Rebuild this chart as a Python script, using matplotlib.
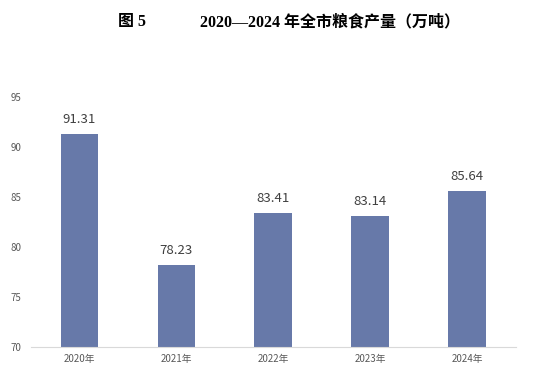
import matplotlib
matplotlib.use("Agg")
import matplotlib.pyplot as plt

plt.rcParams['font.family'] = ['Noto Sans CJK SC', 'DejaVu Sans']

# data
years = ["2020年", "2021年", "2022年", "2023年", "2024年"]
output = [91.31, 78.23, 83.41, 83.14, 85.64]
y_ticks = [70, 75, 80, 85, 90, 95]

fig = plt.figure(figsize=(5.43, 3.82), dpi=100)
ax = fig.add_axes([0.057, 0.0916, 0.893, 0.6544])

x = range(len(years))
bars = ax.bar(x, output, width=0.39, color="#6779A9", bottom=0)

for b, v in zip(bars, output):
    ax.text(b.get_x() + b.get_width() / 2, v + 0.8, f"{v:.2f}",
            ha="center", va="bottom", fontsize=9.5, color="#404040")

ax.set_ylim(70, 95)
ax.set_xlim(-0.5, len(years) - 0.5)
ax.set_yticks(y_ticks)
ax.set_yticklabels([str(t) for t in y_ticks])
ax.set_xticks(list(x))
ax.set_xticklabels(years)
ax.tick_params(axis="both", length=0, labelsize=7, colors="#595959")
ax.tick_params(axis="y", pad=7)
ax.tick_params(axis="x", pad=5)

for s in ["top", "right", "left"]:
    ax.spines[s].set_visible(False)
ax.spines["bottom"].set_color("#D9D9D9")
ax.spines["bottom"].set_linewidth(0.8)

# title
title_font = ['Liberation Serif', 'Noto Sans CJK SC']
fig.text(118 / 543, 1 - 22 / 382, "图 5", family=title_font, fontweight="bold",
         fontsize=11.5, ha="left", va="center")
fig.text(200 / 543, 1 - 22 / 382, "2020—2024 年全市粮食产量（万吨）", family=title_font,
         fontweight="bold", fontsize=11.5, ha="left", va="center")

fig.savefig("out.png", dpi=100)
